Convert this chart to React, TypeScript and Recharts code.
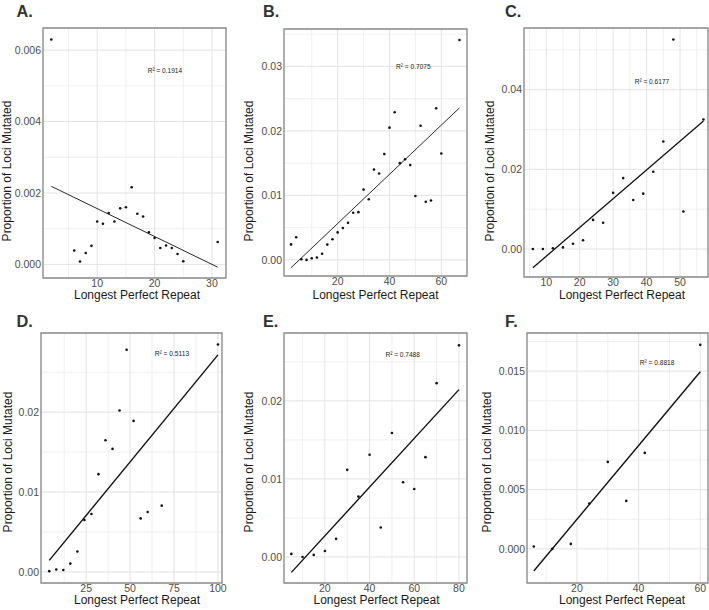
import React from "react";
import {
  ScatterChart,
  Scatter,
  XAxis,
  YAxis,
  CartesianGrid,
  ReferenceArea,
  ReferenceDot,
} from "recharts";

// A. longest perfect repeat vs proportion of loci mutated
const aRepeat = [2, 6, 7, 8, 9, 10, 11, 12, 13, 14, 15, 16, 17, 18, 19, 20, 21, 22, 23, 24, 25, 31];
const aMutated = [
  0.0063, 0.00039, 0.00008, 0.00032, 0.00052, 0.0012, 0.00114, 0.00144, 0.0012, 0.00157, 0.0016,
  0.00216, 0.00142, 0.00134, 0.0009, 0.00074, 0.00046, 0.00053, 0.00046, 0.00029, 0.00009, 0.00063,
];
const aXTicks = [10, 20, 30];
const aYTicks = [0, 0.002, 0.004, 0.006];
const aXMinor = [5, 15, 25];
const aYMinor = [0.001, 0.003, 0.005];

// B.
const bRepeat = [
  2, 4, 6, 8, 10, 12, 14, 16, 18, 20, 22, 24, 26, 28, 30, 32, 34, 36, 38, 40, 42, 44, 46, 48, 50, 52,
  54, 56, 58, 60, 67,
];
const bMutated = [
  0.0024, 0.0035, 0.0001, 0.0, 0.00026, 0.00037, 0.00095, 0.00237, 0.0032, 0.00426, 0.00495,
  0.00574, 0.0073, 0.0074, 0.0109, 0.0094, 0.014, 0.0134, 0.0164, 0.0205, 0.0229, 0.015, 0.0156,
  0.0147, 0.0099, 0.0208, 0.009, 0.0092, 0.0235, 0.0165, 0.0341,
];
const bXTicks = [20, 40, 60];
const bYTicks = [0, 0.01, 0.02, 0.03];
const bXMinor = [10, 30, 50];
const bYMinor = [0.005, 0.015, 0.025, 0.035];

// C.
const cRepeat = [6, 9, 12, 15, 18, 21, 24, 27, 30, 33, 36, 39, 42, 45, 48, 51, 57];
const cMutated = [
  0.0, 0.0, 0.0002, 0.0004, 0.0013, 0.0022, 0.0073, 0.0066, 0.0141, 0.0178, 0.0123, 0.0139, 0.0194,
  0.027, 0.0526, 0.0094, 0.0325,
];
const cXTicks = [10, 20, 30, 40, 50];
const cYTicks = [0, 0.02, 0.04];
const cXMinor = [5, 15, 25, 35, 45, 55];
const cYMinor = [0.01, 0.03, 0.05];

// D.
const dRepeat = [4, 8, 12, 16, 20, 24, 28, 32, 36, 40, 44, 48, 52, 56, 60, 68, 100];
const dMutated = [
  0.0001, 0.0003, 0.00025, 0.00105, 0.00256, 0.0065, 0.00725, 0.01224, 0.01648, 0.0154, 0.0202,
  0.0278, 0.0189, 0.0067, 0.0075, 0.0083, 0.02847,
];
const dXTicks = [25, 50, 75, 100];
const dYTicks = [0, 0.01, 0.02];
const dXMinor = [12.5, 37.5, 62.5, 87.5];
const dYMinor = [0.005, 0.015, 0.025];

// E.
const eRepeat = [5, 10, 15, 20, 25, 30, 35, 40, 45, 50, 55, 60, 65, 70, 80];
const eMutated = [
  0.00039, 0.0, 0.00026, 0.00077, 0.00232, 0.01116, 0.00773, 0.01309, 0.00378, 0.01588, 0.00957,
  0.00871, 0.01279, 0.02227, 0.02712,
];
const eXTicks = [20, 40, 60, 80];
const eYTicks = [0, 0.01, 0.02];
const eXMinor = [10, 30, 50, 70];
const eYMinor = [0.005, 0.015, 0.025];

// F.
const fRepeat = [6, 12, 18, 24, 30, 36, 42, 60];
const fMutated = [0.0002, 0.0, 0.00042, 0.00383, 0.00734, 0.00405, 0.0081, 0.01722];
const fXTicks = [20, 40, 60];
const fYTicks = [0, 0.005, 0.01, 0.015];
const fXMinor = [10, 30, 50];
const fYMinor = [0.0025, 0.0075, 0.0125, 0.0175];

const panelLetters = ["A.", "B.", "C.", "D.", "E.", "F."];
const r2Labels = ["R² = 0.1914", "R² = 0.7075", "R² = 0.6177", "R² = 0.5113", "R² = 0.7488", "R² = 0.8818"];
const xTitle = "Longest Perfect Repeat";
const yTitle = "Proportion of Loci Mutated";

const FONT = "'Liberation Sans', Arial, Helvetica, sans-serif";
const Y_AXIS_W = 40;
const X_AXIS_H = 16;
const PAD = 2;
const PAD_R = 14; // room for the last x tick label past the border

type Rect = { left: number; top: number; width: number; height: number };
type PanelCfg = {
  letter: string;
  xs: number[];
  ys: number[];
  r2: string;
  r2At: [number, number];
  plot: Rect;
  xDomain: [number, number];
  yDomain: [number, number];
  xTicks: number[];
  yTicks: number[];
  xMinor: number[];
  yMinor: number[];
  yDigits: number;
  lineWidth: number;
  letterAt: [number, number];
  xTitleAt: [number, number];
  yTitleAt: [number, number];
};

const panels: PanelCfg[] = [
  {
    letter: panelLetters[0], xs: aRepeat, ys: aMutated, r2: r2Labels[0], r2At: [21.8, 0.00542],
    plot: { left: 43, top: 28, width: 183, height: 250 },
    xDomain: [0.55, 32.45], yDomain: [-0.00038, 0.00662],
    xTicks: aXTicks, yTicks: aYTicks, xMinor: aXMinor, yMinor: aYMinor, yDigits: 3, lineWidth: 0.9,
    letterAt: [16.5, 16.7], xTitleAt: [137, 299], yTitleAt: [10.5, 171],
  },
  {
    letter: panelLetters[1], xs: bRepeat, ys: bMutated, r2: r2Labels[1], r2At: [49.2, 0.03],
    plot: { left: 284, top: 29, width: 183, height: 247 },
    xDomain: [-0.7, 69.9], yDomain: [-0.0025, 0.0358],
    xTicks: bXTicks, yTicks: bYTicks, xMinor: bXMinor, yMinor: bYMinor, yDigits: 2, lineWidth: 0.9,
    letterAt: [263, 16.7], xTitleAt: [375.5, 299], yTitleAt: [252.5, 171],
  },
  {
    letter: panelLetters[2], xs: cRepeat, ys: cMutated, r2: r2Labels[2], r2At: [41.6, 0.042],
    plot: { left: 524, top: 28, width: 184, height: 249 },
    xDomain: [3.35, 58.36], yDomain: [-0.00703, 0.05548],
    xTicks: cXTicks, yTicks: cYTicks, xMinor: cXMinor, yMinor: cYMinor, yDigits: 2, lineWidth: 1.3,
    letterAt: [505, 16.7], xTitleAt: [622, 299], yTitleAt: [493.5, 171],
  },
  {
    letter: panelLetters[3], xs: dRepeat, ys: dMutated, r2: r2Labels[3], r2At: [73.8, 0.02735],
    plot: { left: 41, top: 333, width: 181, height: 250 },
    xDomain: [-0.7, 102.3], yDomain: [-0.00138, 0.0299],
    xTicks: dXTicks, yTicks: dYTicks, xMinor: dXMinor, yMinor: dYMinor, yDigits: 2, lineWidth: 1.4,
    letterAt: [16.5, 326.5], xTitleAt: [137, 604], yTitleAt: [11.5, 462],
  },
  {
    letter: panelLetters[4], xs: eRepeat, ys: eMutated, r2: r2Labels[4], r2At: [54.8, 0.026],
    plot: { left: 284, top: 333, width: 183, height: 250 },
    xDomain: [1.7, 83.6], yDomain: [-0.00334, 0.0287],
    xTicks: eXTicks, yTicks: eYTicks, xMinor: eXMinor, yMinor: eYMinor, yDigits: 2, lineWidth: 1.4,
    letterAt: [263, 326.5], xTitleAt: [376.5, 604], yTitleAt: [252.5, 462],
  },
  {
    letter: panelLetters[5], xs: fRepeat, ys: fMutated, r2: r2Labels[5], r2At: [46, 0.01576],
    plot: { left: 527, top: 333, width: 181, height: 250 },
    xDomain: [3.8, 62.5], yDomain: [-0.00288, 0.01822],
    xTicks: fXTicks, yTicks: fYTicks, xMinor: fXMinor, yMinor: fYMinor, yDigits: 3, lineWidth: 1.4,
    letterAt: [505, 326.5], xTitleAt: [622, 604], yTitleAt: [490.5, 462],
  },
];

// ordinary least squares, drawn across the observed x range (like geom_smooth(method = "lm"))
function linearFit(xs: number[], ys: number[]) {
  const n = xs.length;
  const mx = xs.reduce((s, v) => s + v, 0) / n;
  const my = ys.reduce((s, v) => s + v, 0) / n;
  let sxy = 0;
  let sxx = 0;
  xs.forEach((x, i) => {
    sxy += (x - mx) * (ys[i] - my);
    sxx += (x - mx) * (x - mx);
  });
  const slope = sxy / sxx;
  const icept = my - slope * mx;
  const lo = Math.min(...xs);
  const hi = Math.max(...xs);
  return [
    { x: lo, y: icept + slope * lo },
    { x: hi, y: icept + slope * hi },
  ];
}

const Dot = (p: any) => <circle cx={p.cx} cy={p.cy} r={1.3} fill="#111" />;
const NoShape = () => <g />;

function Panel({ cfg }: { cfg: PanelCfg }) {
  const pts = cfg.xs.map((x, i) => ({ x, y: cfg.ys[i] }));
  const fit = linearFit(cfg.xs, cfg.ys);
  const tickStyle = { fontSize: 10.5, fill: "#4d4d4d", fontFamily: FONT };

  return (
    <div
      style={{
        position: "absolute",
        left: cfg.plot.left - Y_AXIS_W,
        top: cfg.plot.top - PAD,
      }}
    >
      <ScatterChart
        width={cfg.plot.width + Y_AXIS_W + PAD_R}
        height={cfg.plot.height + X_AXIS_H + PAD}
        margin={{ top: PAD, right: PAD_R, bottom: 0, left: 0 }}
        style={{ overflow: "visible" }}
      >
        <CartesianGrid
          stroke="#f0f0f0"
          strokeWidth={1}
          horizontalValues={cfg.yMinor}
          verticalValues={cfg.xMinor}
          syncWithTicks={false}
        />
        <CartesianGrid stroke="#e3e3e3" strokeWidth={1} />
        <XAxis
          type="number"
          dataKey="x"
          domain={cfg.xDomain}
          allowDataOverflow
          ticks={cfg.xTicks}
          interval={0}
          height={X_AXIS_H}
          axisLine={false}
          tickLine={false}
          tickSize={0}
          tickMargin={2}
          tick={tickStyle}
        />
        <YAxis
          type="number"
          dataKey="y"
          domain={cfg.yDomain}
          allowDataOverflow
          ticks={cfg.yTicks}
          interval={0}
          width={Y_AXIS_W}
          axisLine={false}
          tickLine={false}
          tickSize={0}
          tickMargin={2}
          tick={tickStyle}
          tickFormatter={(v: number) => v.toFixed(cfg.yDigits)}
        />
        <Scatter data={pts} shape={Dot} isAnimationActive={false} />
        <Scatter
          data={fit}
          shape={NoShape}
          line={{ stroke: "#111", strokeWidth: cfg.lineWidth }}
          isAnimationActive={false}
        />
        <ReferenceDot
          x={cfg.r2At[0]}
          y={cfg.r2At[1]}
          r={0}
          fill="none"
          stroke="none"
          ifOverflow="visible"
          label={(lp: any) => {
            const vb = lp.viewBox || { x: 0, y: 0, width: 0, height: 0 };
            const cx = vb.x + (vb.width || 0) / 2;
            const cy = vb.y + (vb.height || 0) / 2;
            return (
              <text
                x={cx}
                y={cy}
                dy="0.35em"
                textAnchor="middle"
                fontSize={7.5}
                fill="#222"
                fontFamily="'Liberation Sans Narrow', 'Liberation Sans', Arial, sans-serif"
                textLength={34.5}
                lengthAdjust="spacingAndGlyphs"
              >
                {cfg.r2}
              </text>
            );
          }}
        />
        <ReferenceArea
          x1={cfg.xDomain[0]}
          x2={cfg.xDomain[1]}
          y1={cfg.yDomain[0]}
          y2={cfg.yDomain[1]}
          fill="none"
          stroke="#8c8c8c"
          strokeWidth={1.3}
          ifOverflow="visible"
        />
      </ScatterChart>
    </div>
  );
}

export default function App() {
  return (
    <div
      style={{
        position: "absolute",
        left: 0,
        top: 0,
        width: 709,
        height: 610,
        overflow: "hidden",
        background: "#fff",
      }}
    >
      {panels.map((p) => (
        <Panel key={p.letter} cfg={p} />
      ))}
      <svg
        width={709}
        height={610}
        style={{ position: "absolute", left: 0, top: 0, pointerEvents: "none" }}
      >
        {panels.map((p) => (
          <g key={p.letter} fontFamily={FONT}>
            <text x={p.letterAt[0]} y={p.letterAt[1]} fontSize={16.3} fontWeight="bold" fill="#333">
              {p.letter}
            </text>
            <text x={p.xTitleAt[0]} y={p.xTitleAt[1]} fontSize={12} textAnchor="middle" fill="#1a1a1a">
              {xTitle}
            </text>
            <text
              x={p.yTitleAt[0]}
              y={p.yTitleAt[1]}
              fontSize={12}
              textAnchor="middle"
              fill="#1a1a1a"
              transform={`rotate(-90 ${p.yTitleAt[0]} ${p.yTitleAt[1]})`}
            >
              {yTitle}
            </text>
          </g>
        ))}
      </svg>
    </div>
  );
}
